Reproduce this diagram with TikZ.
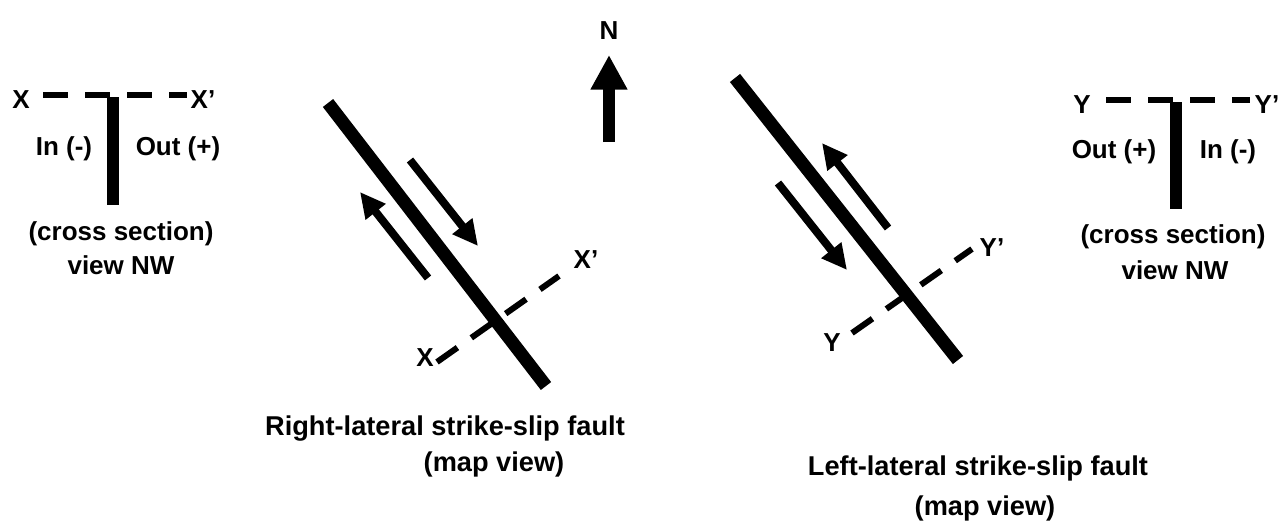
\documentclass[tikz,border=0pt]{standalone}
\usepackage{fontspec}
\setmainfont{Liberation Sans}
\usetikzlibrary{arrows.meta}
\begin{document}
\begin{tikzpicture}[x=0.75pt,y=-0.75pt,
  lbl/.style={anchor=base,inner sep=0pt,font=\fontsize{19.5}{23}\selectfont\bfseries},
  ttl/.style={anchor=base,inner sep=0pt,font=\fontsize{20.4}{24}\selectfont\bfseries},
  fault/.style={line width=9.75pt,line cap=butt},
  bar/.style={line width=9pt,line cap=butt},
  section/.style={line width=4.5pt,line cap=butt,dash pattern=on 18.75pt off 12.75pt},
  slip/.style={line width=6pt,line cap=butt,-{Triangle[length=19pt,width=18pt]}},
  north/.style={line width=9pt,line cap=butt,-{Triangle[length=26pt,width=26pt]}}]
\useasboundingbox (0,0) rectangle (1283,521);

% ---------- left cross section ----------
\coordinate (lxa) at (43,95);
\coordinate (lxb) at (187,95);
\draw[section] (lxa) -- (lxb);
\coordinate (lbt) at (113,97);
\coordinate (lbb) at (113,205);
\draw[bar] (lbt) -- (lbb);
\node[lbl] (lX) at (21,108) {X};
\node[lbl] (lXp) at (203,108) {X’};
\node[lbl] (lin) at (64,155) {In (-)};
\node[lbl] (lout) at (178,155) {Out (+)};
\node[lbl] (lcs) at (121,240) {(cross section)};
\node[lbl] (lnw) at (121,274) {view NW};

% ---------- right cross section ----------
\coordinate (rya) at (1106,100);
\coordinate (ryb) at (1250,100);
\draw[section] (rya) -- (ryb);
\coordinate (rbt) at (1176,102);
\coordinate (rbb) at (1176,209);
\draw[bar] (rbt) -- (rbb);
\node[lbl] (rY) at (1082,113) {Y};
\node[lbl] (rYp) at (1267,113) {Y’};
\node[lbl] (rout) at (1114,158) {Out (+)};
\node[lbl] (rin) at (1228,158) {In (-)};
\node[lbl] (rcs) at (1173,243) {(cross section)};
\node[lbl] (rnw) at (1175,279) {view NW};

% ---------- north arrow ----------
\node[lbl] (N) at (609,40) {N};
\coordinate (na) at (609,142);
\coordinate (nb) at (609,55);
\draw[north] (na) -- (nb);

% ---------- right-lateral fault (map view) ----------
\coordinate (f1a) at (328,103);
\coordinate (f1b) at (546,386);
\draw[fault] (f1a) -- (f1b);
\coordinate (s1a) at (410,160);
\coordinate (s1b) at (478,246);
\draw[slip] (s1a) -- (s1b);
\coordinate (s2a) at (428,278);
\coordinate (s2b) at (360,192);
\draw[slip] (s2a) -- (s2b);
\coordinate (mxa) at (437,362);
\coordinate (mxb) at (559,276);
\draw[section] (mxa) -- (mxb);
\node[lbl] (mX) at (425,366) {X};
\node[lbl] (mXp) at (586,268) {X’};
\node[ttl] (t1) at (445,435) {Right-lateral strike-slip fault};
\node[ttl] (t1b) at (494,471) {(map view)};

% ---------- left-lateral fault (map view) ----------
\coordinate (f2a) at (735,78);
\coordinate (f2b) at (958,360);
\draw[fault] (f2a) -- (f2b);
\coordinate (s3a) at (888,228);
\coordinate (s3b) at (822,143);
\draw[slip] (s3a) -- (s3b);
\coordinate (s4a) at (778,183);
\coordinate (s4b) at (847,270);
\draw[slip] (s4a) -- (s4b);
\coordinate (mya) at (852,333);
\coordinate (myb) at (972,249);
\draw[section] (mya) -- (myb);
\node[lbl] (mY) at (832,351) {Y};
\node[lbl] (mYp) at (992,256) {Y’};
\node[ttl] (t2) at (978,475) {Left-lateral strike-slip fault};
\node[ttl] (t2b) at (985,515) {(map view)};
\end{tikzpicture}
\end{document}
